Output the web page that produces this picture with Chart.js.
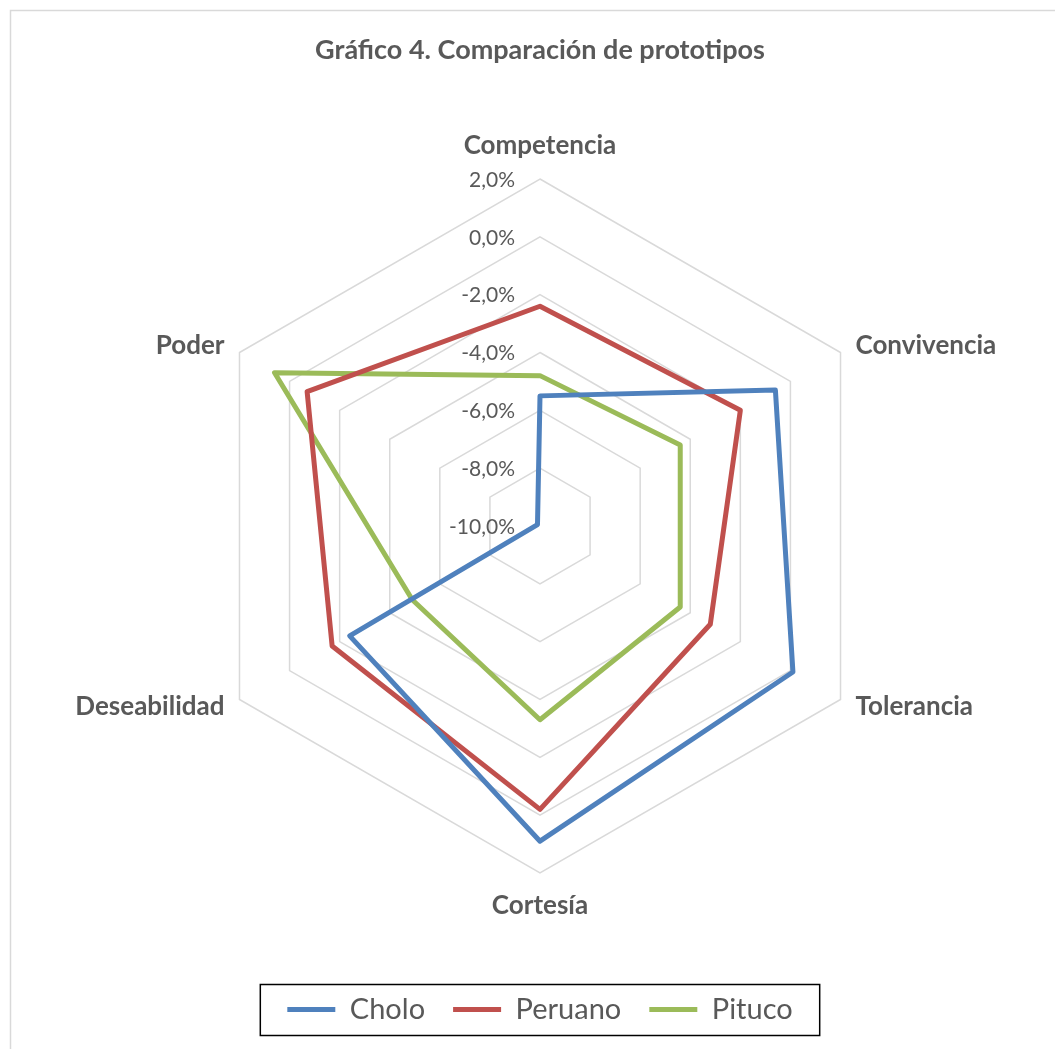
<!DOCTYPE html>
<html>
<head>
<meta charset="utf-8">
<script src="https://cdn.jsdelivr.net/npm/chart.js@4.4.1/dist/chart.umd.min.js"></script>
<style>
  html, body { margin: 0; padding: 0; background: #fff; }
  #wrap { width: 1055px; height: 1049px; }
</style>
</head>
<body>
<div id="wrap"><canvas id="radar"></canvas></div>
<script>
// categories and values (in %)
var categories = ['Competencia', 'Convivencia', 'Tolerancia', 'Cortesía', 'Deseabilidad', 'Poder']
var cholo   = [-5.5, -0.6,  0.1,  0.9, -2.4, -9.9]
var peruano = [-2.4, -2.0, -3.2, -0.2, -1.7, -0.7]
var pituco  = [-4.8, -4.4, -4.4, -3.3, -4.9,  0.6]
var tickValues = [2, 0, -2, -4, -6, -8, -10]

var gray = '#595959'
var fontName = 'Lato, Carlito, Calibri, sans-serif'

function fmt(v) {
	return v.toFixed(1).replace('.', ',') + '%'
}

// frame, tick labels and category labels drawn with the scale's own geometry
var decorations = {
	id: 'decorations',
	beforeDraw: function(chart) {
		var ctx = chart.ctx
		ctx.save()
		ctx.fillStyle = '#fff'
		ctx.fillRect(0, 0, chart.width, chart.height)
		ctx.strokeStyle = '#d9d9d9'
		ctx.lineWidth = 1.5
		ctx.beginPath()
		ctx.moveTo(10.5, chart.height)
		ctx.lineTo(10.5, 10.5)
		ctx.lineTo(chart.width, 10.5)
		ctx.stroke()
		ctx.restore()
	},
	beforeDatasetsDraw: function(chart) {
		var ctx = chart.ctx
		var scale = chart.scales.r
		ctx.save()
		ctx.fillStyle = gray
		ctx.font = '21px ' + fontName
		ctx.textAlign = 'right'
		ctx.textBaseline = 'middle'
		scale.ticks.forEach(function(t) {
			var d = scale.getDistanceFromCenterForValue(t.value)
			ctx.fillText(fmt(t.value), scale.xCenter - 25, scale.yCenter - d + 1)
		})

		ctx.font = 'bold 26px ' + fontName
		var r = scale.drawingArea
		categories.forEach(function(lab, i) {
			var p = scale.getPointPosition(i, r)
			var c = Math.cos(p.angle), s = Math.sin(p.angle)
			var x = p.x, y = p.y
			if (Math.abs(c) < 0.01) {
				ctx.textAlign = 'center'
				y += s * 33
			} else {
				ctx.textAlign = c > 0 ? 'left' : 'right'
				x += c > 0 ? 15 : -15
				y += s * 14
			}
			ctx.fillText(lab, x, y)
		})
		ctx.restore()
	},
	afterDraw: function(chart) {
		// black frame round the legend
		var lg = chart.legend
		var boxes = lg.legendHitBoxes
		if (!boxes || !boxes.length) return
		var first = boxes[0], last = boxes[boxes.length - 1]
		var ctx = chart.ctx
		ctx.save()
		ctx.strokeStyle = '#000'
		ctx.lineWidth = 1.5
		var x0 = first.left - 27, x1 = last.left + last.width + 27
		var yc = first.top + first.height / 2
		ctx.strokeRect(x0, yc - 25, x1 - x0, 51)
		ctx.restore()
	}
}

document.addEventListener('DOMContentLoaded', function() {
	var ctx = document.getElementById('radar').getContext('2d')
	var myChart = new Chart(ctx, {
		type: 'radar',
		data: {
			labels: categories,
			datasets: [
			{
				label: 'Cholo',
				data: cholo,
				borderColor: '#4f81bd',
				backgroundColor: '#4f81bd',
				fill: false,
				borderWidth: 5,
				borderJoinStyle: 'round',
				borderCapStyle: 'round',
				pointRadius: 0
			},
			{
				label: 'Peruano',
				data: peruano,
				borderColor: '#c0504d',
				backgroundColor: '#c0504d',
				fill: false,
				borderWidth: 5,
				borderJoinStyle: 'round',
				borderCapStyle: 'round',
				pointRadius: 0
			},
			{
				label: 'Pituco',
				data: pituco,
				borderColor: '#9bbb59',
				backgroundColor: '#9bbb59',
				fill: false,
				borderWidth: 5,
				borderJoinStyle: 'round',
				borderCapStyle: 'round',
				pointRadius: 0
			}
			]
		},
		options: {
			responsive: true,
			maintainAspectRatio: false,
			animation: false,
			layout: {
				padding: { left: 193, right: 168, top: 0, bottom: 15 }
			},
			scales: {
				r: {
					min: Math.min.apply(null, tickValues),
					max: Math.max.apply(null, tickValues),
					ticks: { display: false, stepSize: 2 },
					grid: { circular: false, color: '#d9d9d9', lineWidth: 1.5 },
					angleLines: { display: false },
					pointLabels: { display: false }
				}
			},
			plugins: {
				title: {
					display: true,
					text: 'Gráfico 4. Comparación de prototipos',
					color: gray,
					font: { family: fontName, size: 27, weight: 'bold', lineHeight: 1.2 },
					padding: { top: 34, bottom: 18.6 }
				},
				legend: {
					position: 'bottom',
					labels: {
						usePointStyle: true,
						pointStyle: 'line',
						pointStyleWidth: 48,
						color: gray,
						padding: 28,
						font: { family: fontName, size: 29 }
					}
				},
				tooltip: { enabled: false }
			}
		},
		plugins: [decorations]
	});
});
</script>
</body>
</html>
